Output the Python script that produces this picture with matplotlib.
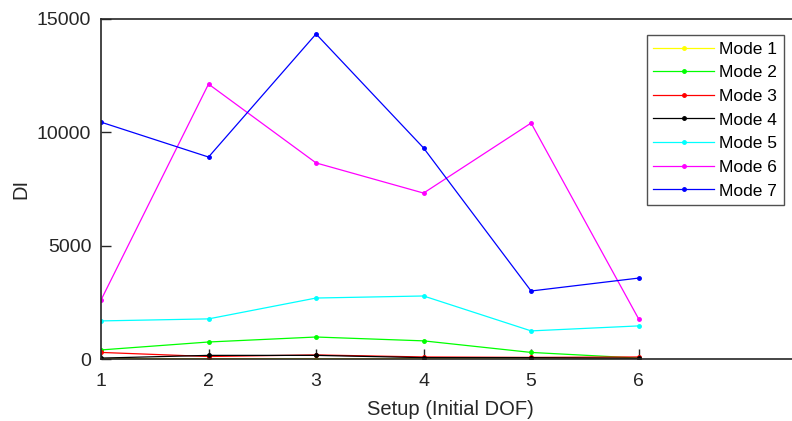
import matplotlib
matplotlib.use("Agg")
import matplotlib.pyplot as plt

plt.rcParams['font.family'] = ['Liberation Sans', 'DejaVu Sans']

setups = [1, 2, 3, 4, 5, 6]
mode1 = [10, 15, 15, 10, 5, 5]
mode2 = [400, 750, 970, 800, 290, 40]
mode3 = [290, 110, 180, 90, 70, 90]
mode4 = [40, 160, 160, 60, 60, 30]
mode5 = [1680, 1770, 2690, 2780, 1240, 1460]
mode6 = [2600, 12130, 8650, 7320, 10410, 1770]
mode7 = [10450, 8910, 14340, 9310, 3000, 3570]

series = [("Mode 1", mode1, "#ffff00"),
          ("Mode 2", mode2, "#00ff00"),
          ("Mode 3", mode3, "#ff0000"),
          ("Mode 4", mode4, "#000000"),
          ("Mode 5", mode5, "#00ffff"),
          ("Mode 6", mode6, "#ff00ff"),
          ("Mode 7", mode7, "#0000ff")]

fig = plt.figure(figsize=(7.92, 4.21), dpi=100)
ax = fig.add_axes([101/792, 62/421, 1 - 101/792 + 0.01, 340/421])
for name, vals, col in series:
    ax.plot(setups, vals, color=col, lw=0.9, marker='o', ms=2.5, label=name)

ax.set_xlim(1, 7.5)
ax.set_ylim(0, 15000)
ax.set_xticks(setups)
ax.set_yticks([0, 5000, 10000, 15000])
ax.tick_params(direction='in', length=7, width=1, labelsize=14, colors='#262626',
               top=False, right=False)
ax.tick_params(axis='x', pad=10)
ax.tick_params(axis='y', pad=7)
for s in ['left', 'bottom', 'top']:
    ax.spines[s].set_linewidth(1.2)
    ax.spines[s].set_color('#262626')
ax.spines['right'].set_visible(False)
ax.set_xlabel("Setup (Initial DOF)", fontsize=14.5, color='#262626', labelpad=7)
ax.set_ylabel("DI", fontsize=14.5, color='#262626', labelpad=5)

leg = ax.legend(loc='upper left', bbox_to_anchor=(647/792, 1 - 35/421),
                bbox_transform=fig.transFigure, fontsize=12.5, frameon=True,
                fancybox=False, edgecolor='#262626', handlelength=3.5,
                labelspacing=0.49, borderpad=0.37, handletextpad=0.3,
                borderaxespad=0)
leg.get_frame().set_linewidth(1.0)

fig.savefig("out.png", dpi=100)
